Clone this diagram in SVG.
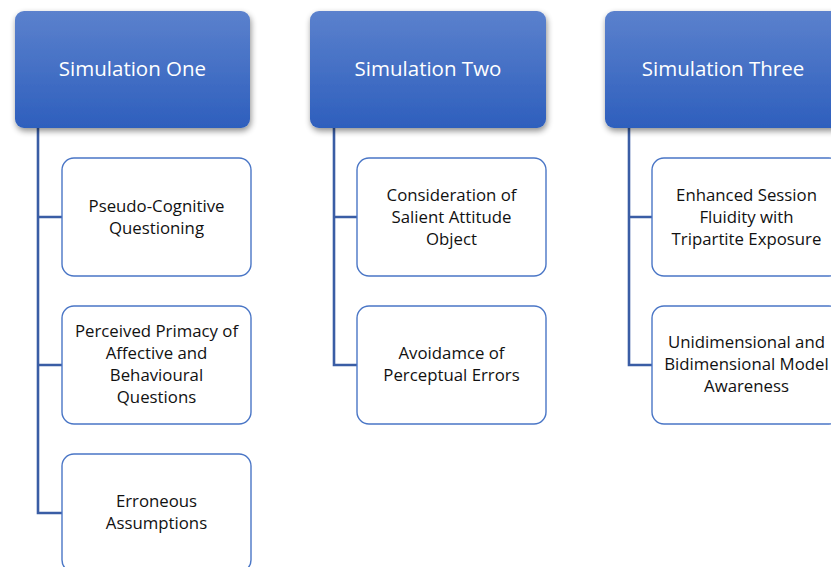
<svg xmlns="http://www.w3.org/2000/svg" width="831" height="567" viewBox="0 0 831 567">
  <defs>
    <linearGradient id="hdrFill" x1="0" y1="0" x2="0" y2="1">
      <stop offset="0" stop-color="#5b81cd"/>
      <stop offset="1" stop-color="#2e5fbd"/>
    </linearGradient>
    <filter id="hdrShadow" x="-10%" y="-10%" width="125%" height="130%">
      <feGaussianBlur in="SourceAlpha" stdDeviation="3"/>
      <feOffset dx="1" dy="3" result="b"/>
      <feComponentTransfer><feFuncA type="linear" slope="0.45"/></feComponentTransfer>
      <feMerge><feMergeNode/><feMergeNode in="SourceGraphic"/></feMerge>
    </filter>
    <style>
      .hdr { fill: url(#hdrFill); filter: url(#hdrShadow); }
      .hdr-text { font-family: "Open Sans", "Noto Sans", sans-serif; font-size: 20.5px; fill: #ffffff; text-anchor: middle; }
      .box { fill: #ffffff; stroke: #4a76c6; stroke-width: 1.4; }
      .box-text { font-family: "Open Sans", "Noto Sans", sans-serif; font-size: 16.8px; fill: #111111; text-anchor: middle; }
      .conn { fill: none; stroke: #3a5da5; stroke-width: 2.6; }
    </style>
  </defs>

  <rect width="831" height="567" fill="#ffffff"/>

  <!-- connectors -->
  <g id="connectors">
    <path class="conn" d="M38,128 V513 H62 M38,217 H62 M38,365 H62"/>
    <path class="conn" d="M334,128 V365 H357 M334,217 H357"/>
    <path class="conn" d="M629,128 V365 H652 M629,217 H652"/>
  </g>

  <!-- column one -->
  <g id="sim-one">
    <rect class="hdr" x="15" y="11" width="235" height="117" rx="9"/>
    <text class="hdr-text" x="132.5" y="76">Simulation One</text>
  </g>
  <g id="pseudo-cognitive">
    <rect class="box" x="62" y="158" width="189" height="118" rx="12"/>
    <text class="box-text" x="156.5" y="212">Pseudo-Cognitive</text>
    <text class="box-text" x="156.5" y="234">Questioning</text>
  </g>
  <g id="perceived-primacy">
    <rect class="box" x="62" y="306" width="189" height="118" rx="12"/>
    <text class="box-text" x="156.5" y="337">Perceived Primacy of</text>
    <text class="box-text" x="156.5" y="359">Affective and</text>
    <text class="box-text" x="156.5" y="381">Behavioural</text>
    <text class="box-text" x="156.5" y="403">Questions</text>
  </g>
  <g id="erroneous-assumptions">
    <rect class="box" x="62" y="454" width="189" height="118" rx="12"/>
    <text class="box-text" x="156.5" y="507">Erroneous</text>
    <text class="box-text" x="156.5" y="529">Assumptions</text>
  </g>

  <!-- column two -->
  <g id="sim-two">
    <rect class="hdr" x="310" y="11" width="236" height="117" rx="9"/>
    <text class="hdr-text" x="428" y="76">Simulation Two</text>
  </g>
  <g id="salient-attitude">
    <rect class="box" x="357" y="158" width="189" height="118" rx="12"/>
    <text class="box-text" x="451.5" y="201">Consideration of</text>
    <text class="box-text" x="451.5" y="223">Salient Attitude</text>
    <text class="box-text" x="451.5" y="245">Object</text>
  </g>
  <g id="perceptual-errors">
    <rect class="box" x="357" y="306" width="189" height="118" rx="12"/>
    <text class="box-text" x="451.5" y="359">Avoidamce of</text>
    <text class="box-text" x="451.5" y="381">Perceptual Errors</text>
  </g>

  <!-- column three -->
  <g id="sim-three">
    <rect class="hdr" x="605" y="11" width="236" height="117" rx="9"/>
    <text class="hdr-text" x="723" y="76">Simulation Three</text>
  </g>
  <g id="session-fluidity">
    <rect class="box" x="652" y="158" width="189" height="118" rx="12"/>
    <text class="box-text" x="746.5" y="201">Enhanced Session</text>
    <text class="box-text" x="746.5" y="223">Fluidity with</text>
    <text class="box-text" x="746.5" y="245">Tripartite Exposure</text>
  </g>
  <g id="model-awareness">
    <rect class="box" x="652" y="306" width="189" height="118" rx="12"/>
    <text class="box-text" x="746.5" y="348">Unidimensional and</text>
    <text class="box-text" x="746.5" y="370">Bidimensional Model</text>
    <text class="box-text" x="746.5" y="392">Awareness</text>
  </g>
</svg>
